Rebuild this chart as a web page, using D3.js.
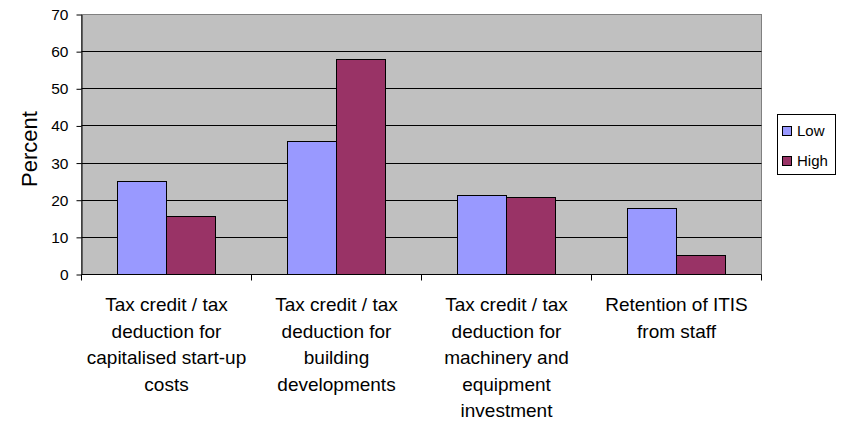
<!DOCTYPE html>
<html>
<head>
<meta charset="utf-8">
<script src="https://cdn.jsdelivr.net/npm/d3@7/dist/d3.min.js"></script>
<style>
  html, body { margin: 0; padding: 0; background: #fff; }
  svg { display: block; font-family: "Liberation Sans", Arial, sans-serif; }
</style>
</head>
<body>
<svg id="chart" width="848" height="422"></svg>
<script>
// Incentive categories (line breaks as shown under the axis)
const categories = [
  "Tax credit / tax\ndeduction for\ncapitalised start-up\ncosts",
  "Tax credit / tax\ndeduction for\nbuilding\ndevelopments",
  "Tax credit / tax\ndeduction for\nmachinery and\nequipment\ninvestment",
  "Retention of ITIS\nfrom staff"
];
const seriesNames = ["Low", "High"];
const lowValues  = [25.1, 35.7, 21.3, 17.9];
const highValues = [15.7, 58.0, 20.8, 5.0];
const yTicks = [0, 10, 20, 30, 40, 50, 60, 70];
const colors = { Low: "#9999FF", High: "#993366" };

const rows = categories.map((c, i) => ({ cat: c, Low: lowValues[i], High: highValues[i] }));

const svg = d3.select("#chart");
const plotLeft = 81, plotTop = 14, plotRight = 761, plotBottom = 274;

const x = d3.scaleBand().domain(categories).range([plotLeft, plotRight]).paddingInner(0).paddingOuter(0);
const xs = d3.scaleBand().domain(seriesNames).range([0, x.bandwidth()]).paddingInner(0).paddingOuter(0.735);
const y = d3.scaleLinear().domain([0, 70]).range([plotBottom, plotTop]);

const g = svg.append("g").attr("transform", "translate(0.5,0.5)");

// plot background
g.append("rect")
  .attr("x", plotLeft).attr("y", plotTop)
  .attr("width", plotRight - plotLeft).attr("height", plotBottom - plotTop)
  .attr("fill", "#C0C0C0")
  .attr("stroke", "#808080");

// horizontal gridlines
g.append("g").selectAll("line")
  .data(yTicks.filter(t => t > 0 && t < 70))
  .join("line")
  .attr("x1", plotLeft).attr("x2", plotRight)
  .attr("y1", d => Math.round(y(d))).attr("y2", d => Math.round(y(d)))
  .attr("stroke", "#000");

// bars
const groups = g.append("g").selectAll("g")
  .data(rows)
  .join("g")
  .attr("transform", d => `translate(${x(d.cat)},0)`);

groups.selectAll("rect")
  .data(d => seriesNames.map(s => ({ s, v: d[s] })))
  .join("rect")
  .attr("x", d => Math.round(xs(d.s)))
  .attr("width", Math.round(xs.bandwidth()))
  .attr("y", d => Math.round(y(d.v)))
  .attr("height", d => Math.round(y(0)) - Math.round(y(d.v)))
  .attr("fill", d => colors[d.s])
  .attr("stroke", "#000");

// y axis
const yAxis = d3.axisLeft(y).tickValues(yTicks).tickSize(5).tickPadding(8).tickSizeOuter(0);
const ya = g.append("g").attr("transform", `translate(${plotLeft},0)`).call(yAxis);
ya.select(".domain").attr("stroke", "#000");
ya.selectAll(".tick line").attr("stroke", "#000");
ya.selectAll(".tick text")
  .attr("font-size", "15.5px")
  .attr("font-family", "'Liberation Sans', Arial, sans-serif")
  .attr("fill", "#000");

// x axis
const xa = g.append("g").attr("transform", `translate(0,${plotBottom})`);
xa.append("line").attr("x1", plotLeft).attr("x2", plotRight).attr("stroke", "#000");
xa.selectAll("line.tk")
  .data(categories.map(c => x(c)).concat([plotRight]))
  .join("line")
  .attr("class", "tk")
  .attr("x1", d => d).attr("x2", d => d)
  .attr("y1", 0).attr("y2", 6)
  .attr("stroke", "#000");

const labels = svg.append("g").selectAll("text")
  .data(categories)
  .join("text")
  .attr("text-anchor", "middle")
  .attr("font-size", "19px")
  .attr("fill", "#000");
labels.each(function (c) {
  const t = d3.select(this);
  const cx = x(c) + x.bandwidth() / 2 + 0.5;
  c.split("\n").forEach((line, i) => {
    t.append("tspan").attr("x", cx).attr("y", 311 + i * 26.6).text(line);
  });
});

// y axis title
svg.append("text")
  .attr("transform", "translate(36.5,149) rotate(-90)")
  .attr("text-anchor", "middle")
  .attr("font-size", "22px")
  .attr("fill", "#000")
  .text("Percent");

// legend
const lg = svg.append("g").attr("transform", "translate(777.5,114.5)");
lg.append("rect").attr("width", 58).attr("height", 60).attr("fill", "#fff").attr("stroke", "#000");
seriesNames.forEach((s, i) => {
  lg.append("rect")
    .attr("x", 5).attr("y", 12 + i * 30)
    .attr("width", 9).attr("height", 9)
    .attr("fill", colors[s]).attr("stroke", "#000");
  lg.append("text")
    .attr("x", 19.5).attr("y", 21.5 + i * 30)
    .attr("font-size", "15px")
    .attr("fill", "#000")
    .text(s);
});
</script>
</body>
</html>
